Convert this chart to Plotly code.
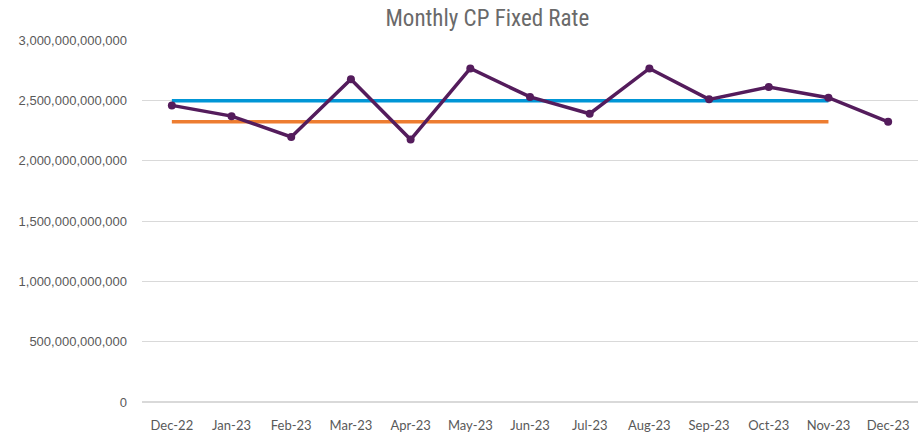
import plotly.graph_objects as go

months = ["Dec-22", "Jan-23", "Feb-23", "Mar-23", "Apr-23", "May-23", "Jun-23",
          "Jul-23", "Aug-23", "Sep-23", "Oct-23", "Nov-23", "Dec-23"]
monthly_values = [2.458e12, 2.369e12, 2.197e12, 2.675e12, 2.175e12, 2.764e12, 2.528e12,
                  2.389e12, 2.764e12, 2.508e12, 2.611e12, 2.522e12, 2.322e12]
line_months = months[:12]
blue_values = [2.497e12] * 12
orange_values = [2.323e12] * 12
y_ticks = [0, 5e11, 1e12, 1.5e12, 2e12, 2.5e12, 3e12]
y_tick_labels = ["0", "500,000,000,000", "1,000,000,000,000", "1,500,000,000,000",
                 "2,000,000,000,000", "2,500,000,000,000", "3,000,000,000,000"]

title_font = "Liberation Sans Narrow, Arial Narrow, Roboto Condensed, Liberation Sans, Arial, sans-serif"
y_font = "Liberation Sans, Arial, sans-serif"
x_font = "Lato, Open Sans, Calibri, sans-serif"

fig = go.Figure()
fig.add_trace(go.Scatter(x=line_months, y=blue_values, mode="lines",
                         line=dict(color="#0096D6", width=3.5), showlegend=False))
fig.add_trace(go.Scatter(x=line_months, y=orange_values, mode="lines",
                         line=dict(color="#ED7D31", width=3.5), showlegend=False))
fig.add_trace(go.Scatter(x=months, y=monthly_values, mode="lines+markers",
                         line=dict(color="#541C5C", width=3.5),
                         marker=dict(color="#541C5C", size=8), showlegend=False))

fig.update_layout(
    width=923, height=438,
    margin=dict(l=142, r=5, t=40, b=36, autoexpand=False),
    paper_bgcolor="white", plot_bgcolor="white",
    title=dict(text="Monthly CP Fixed Rate", x=0.528, xanchor="center", y=0.96, yanchor="middle",
               font=dict(family=title_font, size=23, color="#6A6A6A")),
    font=dict(family=y_font, size=13, color="#595959"),
)
fig.update_xaxes(type="category", categoryorder="array", categoryarray=months,
                 range=[-0.5, 12.5], showgrid=False, showline=False, zeroline=False,
                 automargin=False,
                 tickfont=dict(family=x_font, size=13, color="#595959"), ticklabelstandoff=14)
fig.update_yaxes(range=[0, 3e12], tickvals=y_ticks, ticktext=y_tick_labels, showgrid=True,
                 gridcolor="#D9D9D9", gridwidth=1, zeroline=True, zerolinecolor="#D9D9D9",
                 showline=False, automargin=False,
                 tickfont=dict(family=y_font, size=13, color="#595959"), ticklabelstandoff=14)

fig.write_html("out.html", config={"displayModeBar": False},
               post_script="document.body.style.margin='0px';document.body.style.padding='0px';")
